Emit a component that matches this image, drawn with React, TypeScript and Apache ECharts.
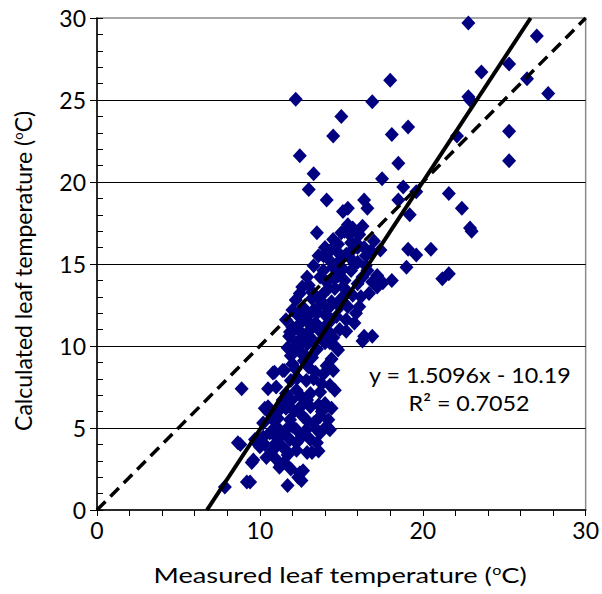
import React, { useEffect, useRef } from "react";
import * as echarts from "echarts";

// Measured vs calculated leaf temperature (°C)
const upperScatter: number[][] = [
  [22.8, 29.7], [27.0, 28.9], [23.6, 26.7], [25.3, 27.2], [26.4, 26.3], [27.7, 25.4],
  [22.8, 25.2], [22.9, 25.0], [25.3, 23.1], [25.3, 21.3], [22.1, 22.8], [21.6, 19.3],
  [22.4, 18.4], [22.9, 17.2], [23.0, 17.0], [21.6, 14.4], [21.2, 14.1], [20.5, 15.9],
  [12.2, 25.05], [15.0, 24.0], [16.9, 24.9], [14.5, 22.8], [18.0, 26.2], [18.1, 22.9],
  [19.1, 23.35], [12.45, 21.6], [18.5, 21.15], [13.3, 20.5], [17.5, 20.2], [13.0, 19.55],
  [14.1, 18.9], [16.4, 18.9], [18.5, 18.9], [18.8, 19.7], [19.6, 19.4], [19.2, 18.0],
  [15.1, 18.2], [15.4, 18.4], [16.6, 18.4], [13.5, 16.9], [19.1, 15.9], [19.6, 15.55],
  [19.0, 14.8], [18.1, 14.0], [17.55, 13.85], [17.2, 13.6], [17.4, 15.85], [16.4, 10.6],
  [16.9, 10.6], [16.3, 10.3],
];

const coreCluster: number[][] = [
  [11.6, 11.6], [12.0, 11.15], [12.55, 10.8], [12.45, 13.2], [12.0, 12.2], [12.3, 11.9],
  [12.7, 12.3], [12.9, 11.5], [13.2, 12.9], [13.0, 13.7], [13.4, 11.4], [13.6, 12.4],
  [13.8, 13.1], [14.0, 11.9], [14.3, 10.8], [14.1, 13.9], [14.4, 12.7], [14.6, 13.5],
  [14.8, 14.3], [14.5, 14.8], [14.2, 15.3], [14.9, 15.2], [15.2, 14.0], [15.0, 12.9],
  [15.4, 13.3], [15.6, 14.6], [15.3, 15.6], [15.7, 15.9], [15.9, 16.3], [15.5, 16.8],
  [16.1, 16.8], [15.4, 17.4], [14.5, 16.5], [16.0, 15.1], [16.3, 14.2], [16.2, 13.0],
  [15.9, 12.0], [16.6, 14.6], [16.8, 15.8], [17.0, 16.4], [14.9, 11.0], [14.7, 9.9],
  [13.9, 10.5], [13.3, 10.3], [12.9, 10.1], [12.5, 9.6], [12.0, 9.75], [13.6, 11.2],
  [14.4, 11.6], [15.3, 11.6], [13.7, 14.2], [13.9, 14.6], [11.85, 10.85], [12.3, 10.2],
  [11.7, 9.9], [12.25, 10.2], [14.3, 10.2], [14.8, 9.75], [14.0, 10.2], [12.55, 10.2],
  [12.7, 9.1], [13.2, 9.3], [13.5, 12.0], [14.2, 12.3], [15.1, 13.6], [14.9, 12.4],
  [15.8, 15.0], [16.4, 16.0], [15.0, 16.9], [13.1, 11.0],
  [12.2, 12.8], [12.6, 13.6], [12.9, 14.2], [13.3, 14.9], [13.6, 15.5], [14.0, 16.0],
  [14.4, 15.9], [14.8, 16.2], [15.2, 17.0], [15.7, 17.2], [16.3, 17.3], [16.0, 16.0],
  [15.6, 15.3], [15.1, 14.7], [14.6, 14.1], [14.2, 13.5], [13.8, 12.7], [13.3, 12.2],
  [12.9, 11.8], [12.5, 11.4], [12.1, 11.0], [11.8, 10.6], [12.4, 10.0], [13.0, 10.6],
  [13.7, 10.9], [14.1, 11.3], [14.7, 11.8], [15.4, 12.4], [15.7, 13.1], [16.0, 13.8],
  [16.5, 14.9], [16.5, 15.5], [17.2, 14.3], [16.9, 13.9], [14.5, 10.5], [13.5, 9.8],
  [12.8, 9.4], [11.9, 9.4], [15.3, 10.9], [15.8, 11.4], [16.1, 12.4], [16.7, 13.2],
  [13.2, 13.3], [13.9, 15.5], [14.8, 15.7], [15.6, 16.3],
];

const lowCluster: number[][] = [
  [8.88, 7.4], [10.9, 8.4], [11.5, 8.5], [11.0, 7.5], [10.5, 6.3], [12.25, 7.3],
  [13.4, 8.4], [14.1, 8.8], [14.5, 8.5], [13.8, 7.7], [14.0, 6.5], [13.1, 6.3],
  [12.65, 5.7], [14.1, 5.1], [14.3, 4.9], [13.5, 4.9], [13.1, 4.3], [13.2, 3.5],
  [12.45, 2.25], [12.55, 1.8], [11.7, 1.5], [11.2, 2.6], [10.4, 3.2], [9.5, 2.9],
  [8.65, 4.1], [8.8, 4.0], [9.2, 1.7], [7.85, 1.4], [10.8, 3.65], [10.2, 4.45],
  [11.2, 4.45], [11.85, 4.3], [11.7, 3.35], [11.5, 2.9], [12.25, 4.9], [10.8, 5.5],
  [11.2, 6.1], [11.95, 6.7], [12.55, 6.9], [13.1, 7.1], [13.7, 7.2], [12.25, 8.1],
  [12.85, 7.9], [10.6, 4.7], [11.4, 3.85], [12.25, 3.65], [11.0, 5.1], [10.0, 3.85],
  [9.7, 4.3], [12.85, 4.9], [13.7, 5.7], [14.2, 5.5], [11.85, 5.5], [11.4, 6.7],
  [13.6, 6.4], [14.2, 5.0], [12.9, 3.5], [12.65, 2.4], [12.35, 2.0], [11.3, 2.75],
  [9.6, 3.05], [9.4, 1.7], [9.8, 4.1], [11.0, 4.45], [12.0, 5.1], [12.85, 5.5],
  [13.7, 4.7], [13.5, 4.1], [12.25, 4.1], [11.6, 3.65], [10.3, 6.2], [10.8, 8.35],
  [11.4, 8.5], [12.3, 8.05], [12.0, 8.9], [13.0, 8.7],
  [12.2, 8.6], [13.3, 8.0], [13.9, 8.3], [14.4, 9.2], [10.2, 5.3], [10.6, 5.9],
  [11.1, 5.6], [11.6, 6.2], [11.6, 7.1], [12.1, 6.0], [12.5, 6.3], [12.9, 6.7],
  [13.3, 5.3], [13.8, 6.0], [14.4, 6.2], [14.6, 7.3], [14.3, 7.6], [10.3, 4.0],
  [10.9, 4.0], [11.9, 2.5], [11.0, 3.1], [11.6, 4.9], [12.6, 4.5], [13.6, 3.6],
  [10.5, 7.4], [11.9, 7.9],
];

// Linear fit y = slope * x + intercept, and the 1:1 line
const fitSlope = 1.5096;
const fitIntercept = -10.19;
const fitR2 = 0.7052;
const axisMin = 0;
const axisMax = 30;

const xTitle = "Measured leaf temperature ({sup|o}C)";
const yTitle = "Calculated leaf temperature ({sup|o}C)";

const FONT = "Lato, 'Open Sans', sans-serif";

export default function App() {
  const ref = useRef<HTMLDivElement>(null);

  useEffect(() => {
    if (!ref.current) return;
    const chart = echarts.init(ref.current, null, { renderer: "svg" });
    const points = [...upperScatter, ...coreCluster, ...lowCluster];
    const fitLine = [
      [(axisMin - fitIntercept) / fitSlope, axisMin],
      [(axisMax - fitIntercept) / fitSlope, axisMax],
    ];
    const oneToOne = [
      [axisMin, axisMin],
      [axisMax, axisMax],
    ];
    const rich = {
      sup: { fontSize: 13, fontFamily: FONT, fill: "#000", color: "#000", padding: [0, 0, 10, 0] },
    };
    chart.setOption({
      animation: false,
      backgroundColor: "#fff",
      textStyle: { fontFamily: FONT },
      grid: {
        left: 97,
        right: 15,
        top: 18,
        bottom: 84,
        show: true,
        borderColor: "#8a8a8a",
        borderWidth: 1.5,
      },
      xAxis: {
        type: "value",
        min: axisMin,
        max: axisMax,
        interval: 10,
        axisLine: { lineStyle: { color: "#000", width: 1.5 } },
        axisTick: { show: true, length: 6, inside: false, lineStyle: { color: "#000", width: 1 } },
        minorTick: { show: true, splitNumber: 5, length: 6, lineStyle: { color: "#000", width: 1 } },
        axisLabel: { fontSize: 23, color: "#000", fontFamily: FONT, margin: 8 },
        splitLine: { show: false },
      },
      yAxis: [
        {
          type: "value",
          min: axisMin,
          max: axisMax,
          interval: 5,
          axisLine: { lineStyle: { color: "#000", width: 1.5 } },
          axisTick: { show: true, length: 6, inside: true, lineStyle: { color: "#000", width: 1 } },
          minorTick: { show: true, splitNumber: 5, length: 6, lineStyle: { color: "#000", width: 1 } },
          axisLabel: { fontSize: 23, color: "#000", fontFamily: FONT, margin: 11 },
          splitLine: { show: true, showMinLine: false, showMaxLine: false, lineStyle: { color: "#000", width: 1 } },
        },
        {
          type: "value",
          position: "left",
          min: axisMin,
          max: axisMax,
          interval: 5,
          axisLine: { show: false },
          axisTick: { show: true, length: 7, inside: false, lineStyle: { color: "#000", width: 1 } },
          axisLabel: { show: false },
          splitLine: { show: false },
        },
      ],
      graphic: [
        {
          type: "text",
          x: 340,
          y: 575,
          scaleX: 1.24,
          style: {
            text: xTitle,
            align: "center",
            verticalAlign: "middle",
            font: `22px ${FONT}`,
            fill: "#000",
            rich,
          },
          z: 10,
        },
        {
          type: "text",
          x: 23,
          y: 271,
          rotation: Math.PI / 2,
          style: {
            text: yTitle,
            align: "center",
            verticalAlign: "middle",
            font: `23px ${FONT}`,
            fill: "#000",
            rich,
          },
          z: 10,
        },
        {
          type: "text",
          x: 470,
          y: 375,
          scaleX: 1.06,
          style: {
            text: `y = ${fitSlope}x - ${Math.abs(fitIntercept)}`,
            align: "center",
            verticalAlign: "middle",
            font: `22px ${FONT}`,
            fill: "#000",
          },
          z: 10,
        },
        {
          type: "text",
          x: 469,
          y: 403,
          scaleX: 1.06,
          style: {
            text: `R² = ${fitR2}`,
            align: "center",
            verticalAlign: "middle",
            font: `22px ${FONT}`,
            fill: "#000",
          },
          z: 10,
        },
      ],
      series: [
        {
          type: "scatter",
          data: points,
          symbol: "diamond",
          symbolSize: [14, 15],
          itemStyle: { color: "#000080", opacity: 1 },
          z: 2,
        },
        {
          type: "line",
          data: oneToOne,
          showSymbol: false,
          symbol: "none",
          lineStyle: { color: "#000", width: 3.5, type: [12, 7] },
          z: 3,
        },
        {
          type: "line",
          data: fitLine,
          showSymbol: false,
          symbol: "none",
          lineStyle: { color: "#000", width: 4, type: "solid" },
          z: 4,
        },
      ],
    });
    return () => chart.dispose();
  }, []);

  return (
    <div
      ref={ref}
      style={{ position: "absolute", left: 0, top: 0, width: 602, height: 594, background: "#fff" }}
    />
  );
}
